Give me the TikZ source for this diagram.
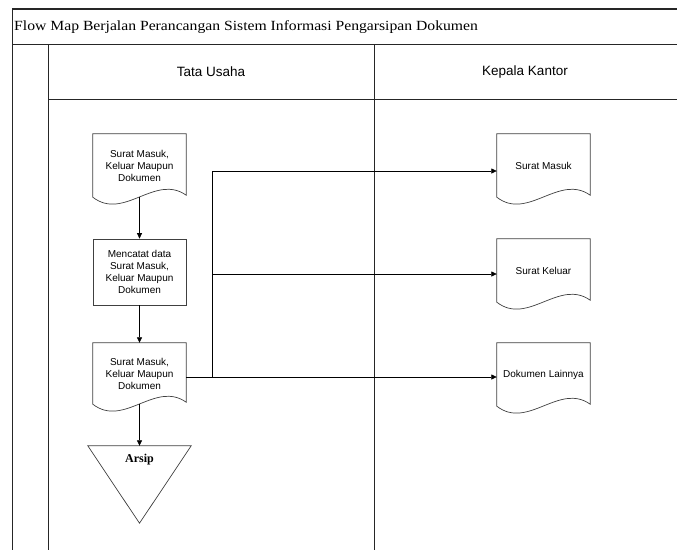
\documentclass[tikz,border=0pt]{standalone}
\usepackage{fontspec}
\setmainfont{Liberation Sans}
\newfontfamily\serifttl[FakeStretch=1.12]{Liberation Serif}
\newfontfamily\serifbold{Liberation Serif}
\usetikzlibrary{arrows.meta,calc}
\tikzset{
  frameline/.style={draw=black!85, line width=1pt},
  shapeline/.style={draw=black!75, line width=0.7pt},
  docnode/.style={draw=none, minimum width=93pt, minimum height=63pt, inner sep=0pt, align=center, font=\fontsize{10}{12}\selectfont},
  procnode/.style={shapeline, minimum width=93pt, minimum height=66pt, inner sep=0pt, align=center, font=\fontsize{10}{12}\selectfont},
  lanehead/.style={font=\fontsize{13.5}{16}\selectfont},
  arr/.style={draw=black, line width=0.7pt, -{Triangle[length=5.5pt,width=5pt]}},
  conn/.style={draw=black, line width=0.7pt},
}
\newcommand{\docoutline}[1]{%
  \draw[shapeline] (#1.north west) -- (#1.north east) -- ([yshift=2pt]#1.south east)
    .. controls ([xshift=-31pt,yshift=24pt]#1.south east) and ([xshift=31pt,yshift=-24pt]#1.south west) .. (#1.south west) -- cycle;}
\begin{document}
\begin{tikzpicture}[x=1pt,y=-1pt]
\useasboundingbox (0,0) rectangle (677,550);
\fill[white] (0,0) rectangle (677,550);
% frame
\draw[frameline, line width=1.4pt] (12,9) -- (677,9);
\draw[frameline] (12,9) -- (12,550);
\draw[frameline] (12,44) -- (677,44);
\draw[frameline] (48,44) -- (48,550);
\draw[frameline] (374,44) -- (374,550);
\draw[frameline] (48,99) -- (677,99);
\node[anchor=west, inner sep=0pt, font=\serifttl\fontsize{14}{16}\selectfont] (title) at (14,27) {Flow Map Berjalan Perancangan Sistem Informasi Pengarsipan Dokumen};
\node[lanehead] (tu) at (211,72) {Tata Usaha};
\node[lanehead] (kk) at (525,72) {Kepala Kantor};
% left lane
\node[docnode] (d1) at (139.5,165.5) {Surat Masuk,\\Keluar Maupun\\Dokumen};
\docoutline{d1}
\node[procnode] (p2) at (139.5,272) {Mencatat data\\Surat Masuk,\\Keluar Maupun\\Dokumen};
\node[docnode, minimum height=61pt] (d3) at (139.5,373.5) {Surat Masuk,\\Keluar Maupun\\Dokumen};
\docoutline{d3}
\node[draw=none, minimum width=103pt, minimum height=77pt, inner sep=0pt] (arsip) at (139.5,484.5) {};
\draw[shapeline] (arsip.north west) -- (arsip.north east) -- (arsip.south) -- cycle;
\node[font=\serifbold\bfseries\fontsize{12}{14}\selectfont] (arsiplbl) at (139.5,460) {Arsip};
% right lane
\node[docnode] (sm) at (543.5,165.5) {Surat Masuk};
\docoutline{sm}
\node[docnode] (sk) at (543.5,270.5) {Surat Keluar};
\docoutline{sk}
\node[docnode] (dl) at (543.5,374.5) {Dokumen Lainnya};
\docoutline{dl}
% connectors
\draw[arr] (d1.south) -- (p2.north);
\draw[arr] (p2.south) -- (d3.north);
\draw[arr] (d3.south) -- (arsip.north);
\coordinate (j1) at (212,171);
\coordinate (j2) at (212,274);
\coordinate (j3) at (212,377);
\draw[conn] (d3.east |- j3) -- (j3) -- (j1);
\draw[arr] (j1) -- (sm.west |- j1);
\draw[arr] (j2) -- (sk.west |- j2);
\draw[arr] (j3) -- (dl.west |- j3);
\end{tikzpicture}
\end{document}
